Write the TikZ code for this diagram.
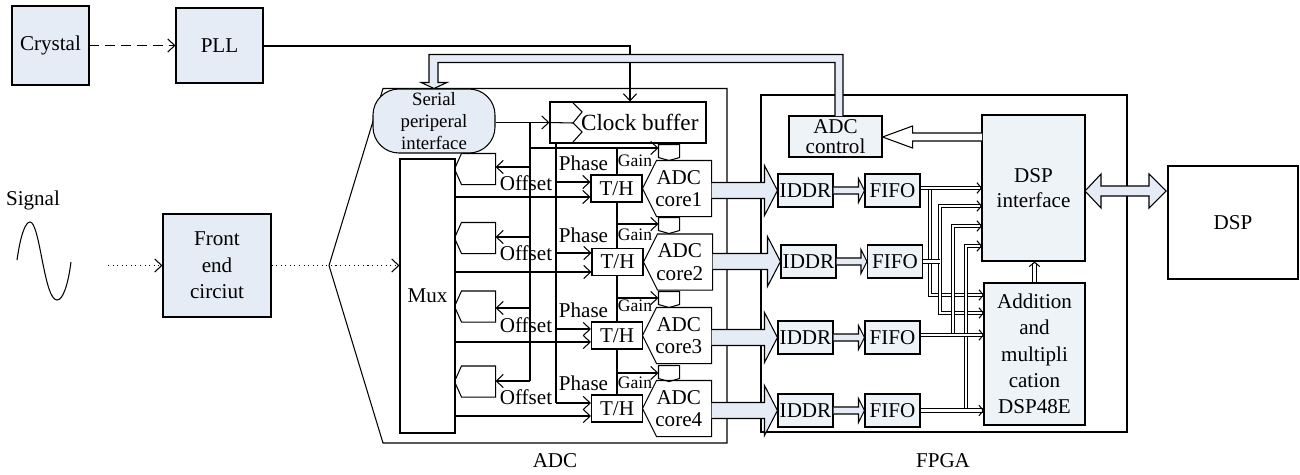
\documentclass[tikz,border=0pt]{standalone}
\usepackage{fontspec}
\setmainfont{Liberation Serif}
\usepackage{tikz}
\usetikzlibrary{calc,arrows.meta}
\definecolor{panel}{HTML}{E6ECF5}
\definecolor{panelb}{HTML}{EEF3F8}
\def\px{0.02cm}
% from, to, half body, half head, head length, fill
\newcommand{\busarrow}[6]{\draw[fill=#6] ($(#1)+(0,-#3)$) -- ($(#2)+(-#5,-#3)$) -- ($(#2)+(-#5,-#4)$) -- (#2) -- ($(#2)+(-#5,#4)$) -- ($(#2)+(-#5,#3)$) -- ($(#1)+(0,#3)$);}
\tikzset{
  blockbox/.style 2 args={draw,minimum width=#1*\px,minimum height=#2*\px,inner sep=0pt,align=center},
  slot/.style 2 args={minimum width=#1*\px,minimum height=#2*\px,inner sep=0pt,align=center},
  thinbus/.style={line width=.55pt,double=white,double distance=1.2pt,-{Straight Barb[length=2.5pt,width=6pt,line width=.6pt]}},
  lab/.style={inner sep=0pt}
}
\begin{document}
\begin{tikzpicture}[x=0.02cm,y=-0.02cm,line width=.6pt,>={Straight Barb[length=4pt,width=7.5pt]},
  font=\fontsize{12}{15}\selectfont]
\useasboundingbox (0,0) rectangle (1300,474);

%the outer blocks
    \node[blockbox={77}{79},fill=panel] (crystal) at (50.5,45.5) {Crystal};
    \node[blockbox={87}{75},fill=panel] (pll) at (219.5,45.5) {PLL};
    \node[blockbox={108}{103},fill=panel] (front) at (217,265.5) {Front\\end\\circiut};
    \node[blockbox={130}{113}] (dsp) at (1233,222.5) {DSP};
    \node[lab] (signal) at (33,200) {Signal};
    \draw (17,260) .. controls (21,232) and (26,222) .. (30,222) .. controls (40,222) and (44,300) .. (57,300) .. controls (63,300) and (68,285) .. (71,262);
    \coordinate (sigout) at (108,265.5);
    \draw[->,dash pattern=on 5.6pt off 3.4pt] (crystal.east) -- (crystal.east -| pll.west);
    \draw[->,dotted] (sigout) -- (front.west);

%the adc outline
    \coordinate (apex) at (329,265.5);
    \draw (apex) -- (383,88.5) -- (727,88.5) -- (727,443) -- (383,443) -- cycle;
    \node[lab] (adclab) at (555,461) {ADC};
    \node[blockbox={55}{274}] (mux) at (427.5,296) {Mux};
    \draw[->,dotted] (front.east) -- (mux.west |- front);
    \node[blockbox={122}{64},fill=panel,rounded corners=26*\px,font=\fontsize{10.7}{12.3}\selectfont] (serial) at (434,121) {Serial\\periperal\\interface};
    \node[blockbox={156}{41},font=\fontsize{13.2}{15}\selectfont,text depth=0pt] (clock) at (628,122.5) {\hspace{13.4pt}Clock buffer};
    \draw (573,103) -- (582,112) -- (573,123) -- (582,132) -- (573,142);
    \draw (clock.west) -- (573,123);
    \draw[->] (serial.east |- clock) -- (clock.west);

%the four channels
    \foreach \i/\thy/\thx/\corx/\ofy/\ofb/\phy/\muy/\gy/\gb/\laby/\oflab/\gnlab in
      {1/188.5/616.5/677/167/169/182/197/148/152.5/163/183/161,
       2/262/617.5/678/237/238/253/272/224/225.5/235/253/235,
       3/335.5/617/677/308/306.5/329/342/298/299.5/310/325/306,
       4/408.5/617/677/381/381.5/403/416/373/373.5/383/397/383} {
      \node[blockbox={51}{27}] (th\i) at (\thx,\thy) {T/H};
      \node[slot={68}{55},font=\fontsize{12}{12.7}\selectfont] (core\i) at (\corx,\thy) {\hspace{2pt}ADC\\\hspace{2pt}core\i};
      \draw (core\i.north east) -- (core\i.south east) -- ($(core\i.south west)+(14,0)$) -- (core\i.west) -- ($(core\i.north west)+(14,0)$) -- cycle;
      \node[slot={40}{30}] (off\i) at (475,\ofb) {};
      \draw (off\i.north east) -- (off\i.south east) -- ($(off\i.south west)+(7,0)$) -- (off\i.west) -- ($(off\i.north west)+(7,0)$) -- cycle;
      \node[slot={20}{15}] (gain\i) at (669,\gb) {};
      \draw (gain\i.north west) -- (gain\i.north east) -- ($(gain\i.south east)+(0,-3)$) -- (gain\i.south) -- ($(gain\i.south west)+(0,-3)$) -- cycle;
      \coordinate (of\i) at (530,\ofy);
      \coordinate (ph\i) at (556,\phy);
      \coordinate (gn\i) at (617,\gy);
      \coordinate (mu\i) at (455,\muy);
      \draw[->] (of\i) -- (of\i -| off\i.east);
      \draw[->] (ph\i) -- (ph\i -| th\i.west);
      \draw[->] (mu\i) -- (mu\i -| th\i.west);
      \draw[->] (gn\i) -- (gn\i -| gain\i.west);
      \node[lab] at (583.5,\laby) {Phase};
      \node[lab] at (526,\oflab) {Offset};
      \node[lab,font=\fontsize{10}{12}\selectfont] at (635,\gnlab) {Gain};
    }
% the control lines
    \draw (of1 |- clock) -- (of4);
    \draw (of1 |- gn1) -- (gn1);
    \draw (ph1 |- clock.south) -- (ph4);
    \draw (gn1) -- (th1.north -| gn1);
    \draw (th1.south -| gn1) -- (th2.north -| gn1);
    \draw (th2.south -| gn1) -- (th3.north -| gn1);
    \draw (th3.south -| gn1) -- (th4.north -| gn1);
    \coordinate (pllturn) at (630,46);
    \draw[->] (pll.east |- pllturn) -- (pllturn) -- (pllturn |- clock.north);

%the fpga
    \draw (761,95) rectangle (1127,432);
    \node[lab] (fpgalab) at (943,461) {FPGA};
    \node[blockbox={93}{41},fill=panelb,font=\fontsize{12}{11}\selectfont] (ctrl) at (835.5,136.5) {ADC\\control};
    \node[blockbox={103}{146},fill=panelb,font=\fontsize{12}{14}\selectfont] (dspi) at (1033.5,188) {DSP\\interface};
    \node[blockbox={101}{142},fill=panelb] (add) at (1034.5,354) {Addition\\and\\multipli\\cation\\DSP48E};
    \foreach \i/\idx/\fix/\y in {1/805.5/892.5/190.5,2/808.5/895/261.5,3/805.5/892.5/337.5,4/805.5/892.5/410.5} {
      \node[blockbox={55}{33},fill=panelb] (iddr\i) at (\idx,\y) {IDDR};
      \node[blockbox={55}{33},fill=panelb] (fifo\i) at (\fix,\y) {FIFO};
      \coordinate (busout\i) at (core\i.east |- iddr\i);
      \busarrow{busout\i}{iddr\i.west}{8}{25}{13}{panel}
      \busarrow{iddr\i.east}{fifo\i.west}{3.5}{12}{6}{panel}
    }
% the thin buses
    \coordinate (dspin1) at (982,188);
    \coordinate (dspin2) at (982,206);
    \coordinate (dspin3) at (982,226);
    \coordinate (dspin4) at (982,246);
    \coordinate (addin1) at (984,295);
    \coordinate (addin2) at (984,313);
    \coordinate (addin3) at (984,335);
    \coordinate (addin4) at (984,410.5);
    \coordinate (tap1) at (930,188);
    \coordinate (tap2) at (940,261.5);
    \coordinate (tap3) at (953,335);
    \coordinate (tap4) at (966,410.5);
    \draw[thinbus] (tap1) |- (addin1);
    \draw[thinbus] (tap2) |- (dspin2);
    \draw[thinbus] (tap2) |- (addin2);
    \draw[thinbus] (tap3) |- (dspin3);
    \draw[thinbus] (tap4) |- (dspin4);
    \draw[thinbus] (fifo1.east |- dspin1) -- (dspin1);
    \draw[thinbus,-] (fifo2.east) -- (tap2);
    \draw[thinbus] (fifo3.east |- addin3) -- (addin3);
    \draw[thinbus] (fifo4.east) -- (addin4);
    \draw[thinbus] (add.north) -- (dspi.south -| add.north);

% the block arrows
    \coordinate (spiup) at (839,116);
    \coordinate (spitop) at ($(serial.north)+(0,-30)$);
    \draw[fill=panel] ($(spiup)+(4,0)$) |- ($(spitop)+(-5,-4)$) -- ($(serial.north)+(-5,-6)$) -- ($(serial.north)+(-13,-6)$) -- (serial.north) -- ($(serial.north)+(13,-6)$) -- ($(serial.north)+(4,-6)$) -- ($(spitop)+(4,4)$) -| ($(spiup)+(-4,0)$);
    \coordinate (ctrlin) at (982,137);
    \busarrow{ctrlin}{ctrlin -| ctrl.east}{4}{11}{-30}{white}
    \coordinate (dspport) at (1085,191);
    \coordinate (dspport2) at (1166,191);
    \draw[fill=panel] (dspport) -- ($(dspport)+(16,-17)$) -- ($(dspport)+(16,-5)$) -- ($(dspport2)+(-17,-5)$) -- ($(dspport2)+(-17,-17)$) -- (dspport2) -- ($(dspport2)+(-17,17)$) -- ($(dspport2)+(-17,5)$) -- ($(dspport)+(16,5)$) -- ($(dspport)+(16,17)$) -- cycle;
\end{tikzpicture}
\end{document}
